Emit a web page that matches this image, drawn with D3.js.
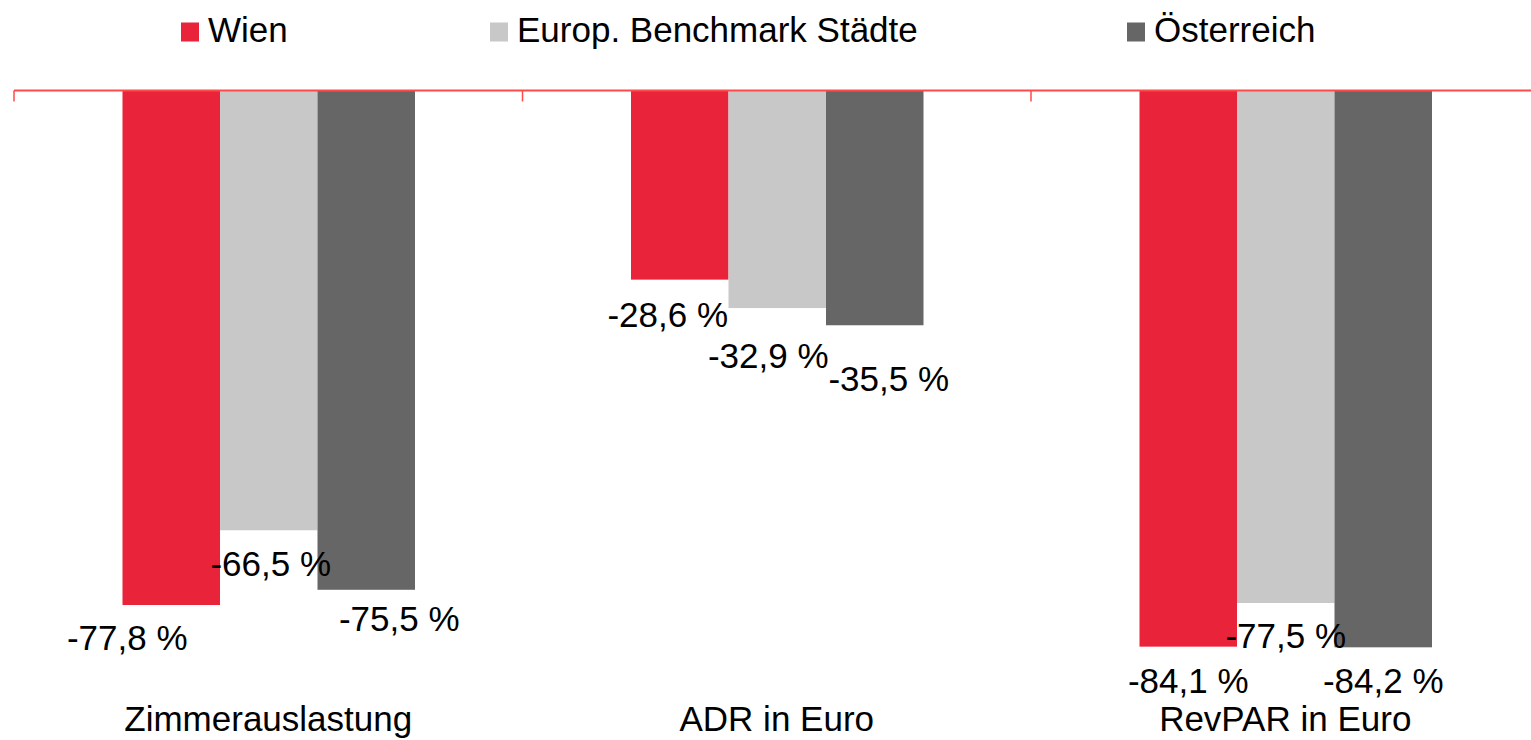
<!DOCTYPE html>
<html>
<head>
<meta charset="utf-8">
<script src="https://cdn.jsdelivr.net/npm/d3@7"></script>
<style>
  html, body { margin: 0; padding: 0; background: #fff; }
  svg { display: block; font-family: "Liberation Sans", Arial, sans-serif; }
</style>
</head>
<body>
<svg id="chart" width="1531" height="740"></svg>
<script>
// ---- data ----
const categories = ["Zimmerauslastung", "ADR in Euro", "RevPAR in Euro"];
const seriesNames = ["Wien", "Europ. Benchmark Städte", "Österreich"];
const wien = [-77.8, -28.6, -84.1];
const benchmark = [-66.5, -32.9, -77.5];
const oesterreich = [-75.5, -35.5, -84.2];
const seriesValues = [wien, benchmark, oesterreich];

// ---- layout / style ----
const colors = ["#e8233a", "#c8c8c8", "#666666"];
const labelNudge = [ // [dx, dy] per series, per category (label placement)
  [[-44, 45], [-12, 47], [0, 46]],
  [[2, 46], [-9, 60], [0, 45]],
  [[33, 41], [14, 66], [0, 46]]
];
const W = 1531, H = 740;
const svg = d3.select("#chart");
const fontSize = 35;

const x0 = d3.scaleBand().domain(categories).range([14, 14 + 508.5 * 3]).padding(0);
const bw = x0.bandwidth();
const x1 = d3.scaleBand().domain(seriesNames).range([108.5, 401]).padding(0);
const y = d3.scaleLinear().domain([0, -100]).range([90.5, 90.5 + 661.3]);

const data = [];
categories.forEach((c, ci) => {
  seriesNames.forEach((s, si) => {
    data.push({ c, ci, s, si, v: seriesValues[si][ci] });
  });
});

// bars
svg.append("g").selectAll("rect").data(data).join("rect")
  .attr("x", d => x0(d.c) + x1(d.s))
  .attr("y", y(0))
  .attr("width", x1.bandwidth())
  .attr("height", d => y(d.v) - y(0))
  .attr("fill", d => colors[d.si]);

// axis line + boundary ticks
const axisG = svg.append("g");
axisG.append("line")
  .attr("x1", x0.range()[0]).attr("x2", x0.range()[1])
  .attr("y1", y(0)).attr("y2", y(0))
  .attr("stroke", "#ff4a4a").attr("stroke-width", 2);
const bounds = categories.map(c => x0(c)).concat([x0.range()[1]]);
axisG.selectAll("line.tick").data(bounds).join("line")
  .attr("class", "tick")
  .attr("x1", d => d).attr("x2", d => d)
  .attr("y1", y(0)).attr("y2", y(0) + 11)
  .attr("stroke", "#ff4a4a").attr("stroke-width", 1.5);

// value labels
svg.append("g").selectAll("text").data(data).join("text")
  .attr("x", d => x0(d.c) + x1(d.s) + x1.bandwidth() / 2 + labelNudge[d.si][d.ci][0])
  .attr("y", d => y(d.v) + labelNudge[d.si][d.ci][1])
  .attr("text-anchor", "middle")
  .attr("font-size", fontSize)
  .attr("fill", "#000")
  .text(d => d3.format(".1f")(d.v).replace("−", "-").replace(".", ",") + " %");

// category labels
svg.append("g").selectAll("text").data(categories).join("text")
  .attr("x", d => x0(d) + bw / 2)
  .attr("y", 731)
  .attr("text-anchor", "middle")
  .attr("font-size", fontSize)
  .attr("fill", "#000")
  .text(d => d);

// legend
const legendX = [181, 490, 1127];
const lg = svg.append("g").selectAll("g").data(seriesNames).join("g")
  .attr("transform", (d, i) => `translate(${legendX[i]},0)`);
lg.append("rect").attr("x", 0).attr("y", 22.5).attr("width", 18).attr("height", 19)
  .attr("fill", (d, i) => colors[i]);
lg.append("text").attr("x", 27).attr("y", 42)
  .attr("font-size", fontSize).attr("fill", "#000").text(d => d);
</script>
</body>
</html>
